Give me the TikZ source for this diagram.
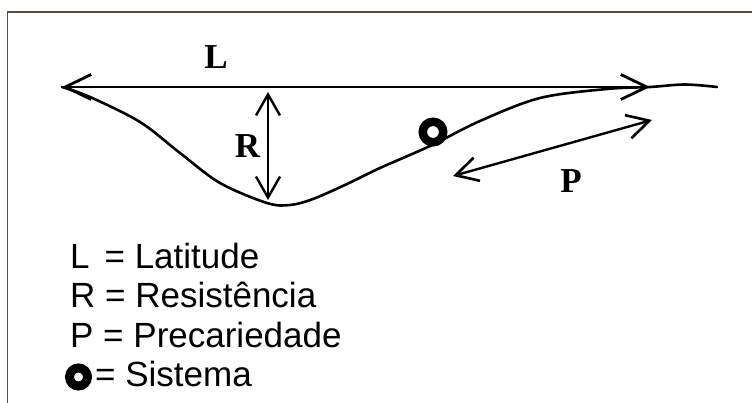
\documentclass[tikz,border=0pt]{standalone}
\usepackage{fontspec}
\setmainfont{Liberation Sans}
\newfontfamily\labelfont{Liberation Serif}
\usetikzlibrary{arrows.meta}
\definecolor{bordercol}{RGB}{105,72,62}
\tikzset{
  bigbarb/.tip={Straight Barb[length=26pt,width=25pt,line width=2.8pt]},
  midbarb/.tip={Straight Barb[length=22pt,width=24pt,line width=2.6pt]},
  smallbarb/.tip={Straight Barb[length=21pt,width=24pt,line width=2.4pt]}
}
\begin{document}
\begin{tikzpicture}[x=1pt,y=-1pt,
  mainline/.style={line width=2.6pt, line cap=round, line join=round},
  legend/.style={anchor=base west, inner sep=0pt, font=\fontsize{35}{40}\selectfont},
  lbl/.style={inner sep=0pt, font=\labelfont\bfseries\fontsize{35}{35}\selectfont},
  ring/.style={draw, circle, inner sep=0pt, minimum size=#1}]
\useasboundingbox (0,0) rectangle (752,403);
% frame
\draw[bordercol, line width=1.6pt] (7.5,403) -- (7.5,12) -- (752,12);
% landscape curve
\draw[mainline] plot[smooth, tension=0.55] coordinates {(62,87) (90,97) (140,122) (180,153) (220,183) (267,203) (290,205) (313,199) (347,184) (380,168) (430,146) (480,121) (540,98) (607,89) (650,87) (685,84.5) (717,87)};
% L arrow
\coordinate (Lleft) at (62,87);
\coordinate (Lright) at (650,87);
\draw[mainline, bigbarb-bigbarb] (Lleft) -- (Lright);
\node[lbl] (Llab) at (216,57.5) {L};
% R arrow
\coordinate (Rtop) at (268,92);
\coordinate (Rbot) at (268,200);
\draw[line width=1.4pt, smallbarb-smallbarb] (Rtop) -- (Rbot);
\node[lbl] (Rlab) at (247.5,146.5) {R};
% P arrow
\coordinate (Pleft) at (453,176);
\coordinate (Pright) at (652,120);
\draw[line width=2.4pt, line cap=round, midbarb-midbarb] (Pleft) -- (Pright);
\node[lbl] (Plab) at (571,181) {P};
% system
\node[ring=20.5pt, line width=8.5pt] (sys) at (433,132) {};
% legend
\node[legend] (leg1) at (70,269) {L\hspace{0.15em} = Latitude};
\node[legend] (leg2) at (70,308) {R = Resistência};
\node[legend] (leg3) at (70,347) {P = Precariedade};
\node[ring=18pt, line width=9pt] (legsys) at (78.5,377) {};
\node[legend] (leg4) at (95,386) {= Sistema};
\end{tikzpicture}
\end{document}
